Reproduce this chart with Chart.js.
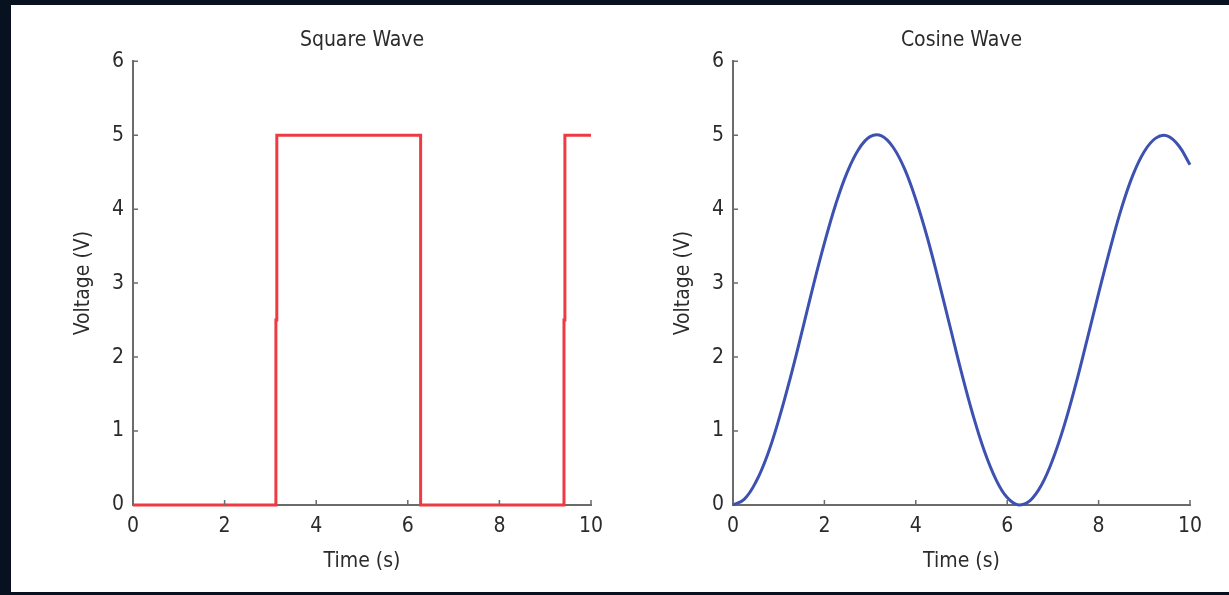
<!DOCTYPE html>
<html>
<head>
<meta charset="utf-8">
<script src="https://cdn.jsdelivr.net/npm/chart.js@4"></script>
<style>
  body { margin: 0; background: #07111f; width: 1229px; height: 595px; overflow: hidden; position: relative; }
  #panel { position: absolute; left: 11px; top: 5px; width: 1218px; height: 587px; background: #fff; }
  .wrap { position: absolute; top: 5px; height: 585px; }
  #w1 { left: 20px; width: 595px; }
  #w2 { left: 620px; width: 609px; }
</style>
</head>
<body>
<div id="panel"></div>
<div class="wrap" id="w1"><canvas id="square"></canvas></div>
<div class="wrap" id="w2"><canvas id="cosine"></canvas></div>
<script>
// === DADOS ===
const squareTime = [0, 3.12, 3.12, 3.14, 3.14, 6.28, 6.28, 9.41, 9.41, 9.43, 9.43, 10];
const squareVolt = [0, 0, 2.5, 2.5, 5, 5, 0, 0, 2.5, 2.5, 5, 5];

const cosTime = [0, 0.25, 0.5, 0.75, 1, 1.25, 1.5, 1.75, 2, 2.25, 2.5, 2.75, 3, 3.25, 3.5, 3.75,
  4, 4.25, 4.5, 4.75, 5, 5.25, 5.5, 5.75, 6, 6.25, 6.5, 6.75, 7, 7.25, 7.5, 7.75,
  8, 8.25, 8.5, 8.75, 9, 9.25, 9.5, 9.75, 10];
const cosVolt = [0, 0.08, 0.31, 0.67, 1.15, 1.71, 2.32, 2.95, 3.54, 4.07, 4.5, 4.81, 4.98, 4.99, 4.84, 4.55,
  4.13, 3.62, 3.03, 2.41, 1.79, 1.22, 0.73, 0.35, 0.1, 0, 0.06, 0.27, 0.62, 1.08, 1.63, 2.24,
  2.86, 3.46, 4.01, 4.46, 4.78, 4.96, 4.99, 4.86, 4.6];

const xTicks = [0, 2, 4, 6, 8, 10];
const yTicks = [0, 1, 2, 3, 4, 5, 6];

const FONT = "'Liberation Sans Narrow', 'Arial Narrow', 'DejaVu Sans Condensed', sans-serif";
const AXIS = '#6b6b6b';
const TEXT = '#2b2b2b';

// === TICKS PARA DENTRO ===
const inwardTicks = {
  id: 'inwardTicks',
  afterDraw(chart) {
    const { ctx, chartArea, scales } = chart;
    ctx.save();
    ctx.strokeStyle = AXIS;
    ctx.lineWidth = 1.5;
    ctx.beginPath();
    scales.x.ticks.forEach(t => {
      if (t.value === 0) return;
      const px = scales.x.getPixelForValue(t.value);
      ctx.moveTo(px, chartArea.bottom);
      ctx.lineTo(px, chartArea.bottom - 5);
    });
    scales.y.ticks.forEach(t => {
      if (t.value === 0) return;
      const py = scales.y.getPixelForValue(t.value);
      ctx.moveTo(chartArea.left, py);
      ctx.lineTo(chartArea.left + 5, py);
    });
    ctx.stroke();
    ctx.restore();
  }
};

function criarGrafico(id, titulo, xs, ys, cor, tension, rightPad) {
  const pts = xs.map((x, i) => ({ x, y: ys[i] }));
  return new Chart(document.getElementById(id), {
    type: 'line',
    data: {
      datasets: [{
        data: pts,
        borderColor: cor,
        borderWidth: 3,
        pointRadius: 0,
        tension: tension,
        clip: 6
      }]
    },
    options: {
      responsive: true,
      maintainAspectRatio: false,
      animation: false,
      layout: { padding: { left: 0, right: rightPad, top: 0, bottom: 0 } },
      plugins: {
        legend: { display: false },
        tooltip: { enabled: false },
        title: {
          display: true,
          text: titulo,
          fullSize: false,
          color: TEXT,
          font: { family: FONT, size: 21, weight: 'normal', lineHeight: 1.2 },
          padding: { top: 23, bottom: 8 }
        }
      },
      scales: {
        x: {
          type: 'linear',
          min: 0, max: 10,
          afterBuildTicks: s => { s.ticks = xTicks.map(v => ({ value: v })); },
          afterFit: s => { s.height = 85; },
          grid: { display: false, drawTicks: false },
          border: { display: true, color: AXIS, width: 2 },
          ticks: { color: TEXT, padding: 9, maxRotation: 0, font: { family: FONT, size: 21 } },
          title: {
            display: true, text: 'Time (s)', color: TEXT,
            font: { family: FONT, size: 21, lineHeight: 1.2 },
            padding: { top: 0, bottom: 16 }
          }
        },
        y: {
          min: 0, max: 6,
          afterBuildTicks: s => { s.ticks = yTicks.map(v => ({ value: v })); },
          afterFit: s => { s.width = 113; },
          grid: { display: false, drawTicks: false },
          border: { display: true, color: AXIS, width: 2 },
          ticks: { color: TEXT, padding: 9, font: { family: FONT, size: 21 } },
          title: {
            display: true, text: 'Voltage (V)', color: TEXT,
            font: { family: FONT, size: 21, lineHeight: 1.2 },
            padding: { top: 51, bottom: 0 }
          }
        }
      }
    },
    plugins: [inwardTicks]
  });
}

criarGrafico('square', 'Square Wave', squareTime, squareVolt, '#ee3a43', 0, 24);
criarGrafico('cosine', 'Cosine Wave', cosTime, cosVolt, '#3d52b0', 0.4, 39);
</script>
</body>
</html>
